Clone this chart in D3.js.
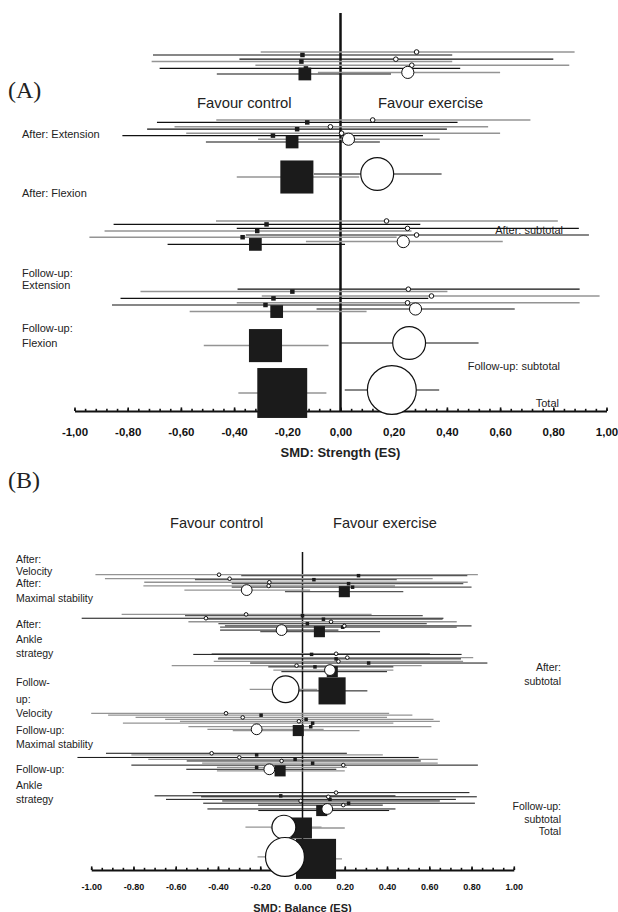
<!DOCTYPE html>
<html>
<head>
<meta charset="utf-8">
<script src="https://cdn.jsdelivr.net/npm/d3@7"></script>
<style>
  body { margin: 0; background: #fff; }
  text { fill: #222; }
  .narrow { font-family: 'Liberation Sans Narrow', 'Arial Narrow', 'Liberation Sans', sans-serif; }
  .tick text { font-family: 'Liberation Sans', Arial, sans-serif; font-weight: bold; fill: #111; }
</style>
</head>
<body>
<svg width="618" height="912"></svg>
<script>
// ---- panel A: strength (row position, estimate, CI, marker, weight, series) ----
var aPos = [10, 10.75, 11.8, 12.4, 13.3, 14.1, 15.1, 15.5,
            27, 27.6, 28.7, 29.3, 30.3, 30.9, 31.8, 32.5,
            40.5, 41.25,
            52.25, 53.1, 54.1, 54.75, 55.75, 56.3, 57.4, 58.1,
            69.3, 69.9, 71, 71.6, 72.7, 73.25, 74.25, 74.9,
            82.75, 83.4,
            94.5, 95.25];
var aEst = [0.286, -0.143, 0.208, -0.147, 0.268, -0.13, 0.253, -0.134,
            0.121, -0.125, -0.038, -0.163, 0.004, -0.254, 0.03, -0.182,
            0.138, -0.164,
            0.173, -0.278, 0.252, -0.313, 0.286, -0.368, 0.236, -0.32,
            0.255, -0.181, 0.342, -0.252, 0.252, -0.282, 0.282, -0.24,
            0.258, -0.282,
            0.193, -0.219];
var aLo = [-0.30, -0.705, -0.38, -0.71, -0.32, -0.68, -0.085, -0.465,
           -0.467, -0.69, -0.624, -0.727, -0.58, -0.82, -0.31, -0.506,
           -0.10, -0.39,
           -0.468, -0.853, -0.39, -0.887, -0.356, -0.944, -0.13, -0.65,
           -0.387, -0.752, -0.296, -0.827, -0.39, -0.859, -0.09, -0.567,
           0.0, -0.514,
           0.016, -0.384];
var aHi = [0.88, 0.42, 0.80, 0.42, 0.86, 0.45, 0.60, 0.19,
           0.714, 0.44, 0.555, 0.40, 0.60, 0.31, 0.373, 0.148,
           0.38, 0.07,
           0.817, 0.30, 0.896, 0.267, 0.934, 0.211, 0.61, 0.017,
           0.899, 0.402, 0.974, 0.33, 0.899, 0.298, 0.655, 0.098,
           0.519, -0.045,
           0.371, -0.053];
var aShape = ["c","s","c","s","c","s","c","s",
              "c","s","c","s","c","s","c","s",
              "c","s",
              "c","s","c","s","c","s","c","s",
              "c","s","c","s","c","s","c","s",
              "c","s",
              "c","s"];
var aWeight = [1,1,1,1,1,1,7,8,
               1,1,1,1,1,1,7,8,
               51,54,
               1,1,1,1,1,1,7,8,
               1,1,1,1,1,1,7,8,
               51,54,
               113,123];
var aSeries = ["g","k","k","g","g","k","g","k",
               "g","k","g","k","g","k","g","k",
               "k","g",
               "g","k","k","g","k","g","g","k",
               "k","g","g","k","g","k","k","g",
               "k","g",
               "k","g"];

// ---- panel B: balance ----
var bPos = [7.1, 7.4, 8.35, 8.65, 9.45, 9.9, 10.6, 11.0, 11.9, 12.4,
            19.5, 19.9, 20.7, 21.0, 21.8, 22.4, 23.1, 23.5, 24.4, 24.9,
            31.8, 32.0, 33.0, 33.4, 34.2, 34.7, 35.5, 35.9, 36.9, 37.4,
            42.9, 43.4,
            50.4, 51.0, 51.7, 52.3, 52.9, 53.5, 54.6, 55.4, 55.8,
            62.9, 63.4, 64.2, 64.8, 65.3, 66.0, 66.6, 67.3, 67.9, 68.4,
            75.2, 76.2, 76.5, 77.3, 77.8, 78.5, 79.1, 80.3, 80.8,
            86.0, 86.25,
            95.3, 95.9];
var bEst = [-0.395, 0.265, -0.345, 0.054, -0.157, 0.218, -0.16, 0.237, -0.264, 0.198,
            -0.267, 0.0, -0.457, 0.099, 0.135, 0.023, 0.198, 0.19, -0.099, 0.08,
            0.159, 0.043, 0.212, 0.159, 0.17, 0.313, -0.028, 0.059, 0.13, 0.141,
            -0.08, 0.14,
            -0.362, -0.196, -0.283, 0.017, -0.017, 0.048, 0.039, -0.217, -0.02,
            -0.43, -0.217, -0.299, -0.035, -0.099, 0.048, 0.193, -0.217, -0.157, -0.106,
            0.159, -0.103, 0.122, 0.13, -0.009, 0.218, 0.193, 0.117, 0.091,
            -0.088, -0.005,
            -0.083, 0.064];
var bLo = [-0.98, -0.29, -0.935, -0.509, -0.749, -0.335, -0.753, -0.335, -0.559, -0.083,
           -0.856, -0.556, -1.045, -0.461, -0.54, -0.398, -0.367, -0.39, -0.39, -0.2,
           -0.43, -0.517, -0.398, -0.40, -0.42, -0.248, -0.619, -0.162, -0.138, -0.10,
           -0.25, -0.02,
           -1.0, -0.92, -0.79, -0.65, -0.58, -0.85, -0.54, -0.45, -0.33,
           -0.93, -0.81, -1.065, -0.73, -0.548, -0.475, -0.81, -0.405, -0.55, -0.405,
           -0.52, -0.70, -0.48, -0.646, -0.38, -0.47, -0.21, -0.45, -0.209,
           -0.27, -0.15,
           -0.213, -0.05];
var bHi = [0.83, 0.78, 0.616, 0.446, 0.782, 0.761, 0.438, 0.80, 0.036, 0.477,
           0.327, 0.569, 0.667, 0.663, 0.73, 0.588, 0.80, 0.73, 0.17, 0.367,
           0.603, 0.753, 0.808, 0.75, 0.76, 0.875, 0.564, 0.43, 0.43, 0.40,
           0.07, 0.307,
           0.41, 0.52, 0.40, 0.62, 0.65, 0.43, 0.61, 0.10, 0.27,
           0.21, 0.38, 0.55, 0.64, 0.56, 0.64, 0.83, 0.21, 0.16, 0.20,
           0.79, 0.44, 0.825, 0.726, 0.65, 0.816, 0.38, 0.44, 0.41,
           0.09, 0.20,
           0.05, 0.187];
var bShape = ["c","s","c","s","c","s","c","s","c","s",
              "c","s","c","s","c","s","c","s","c","s",
              "c","s","c","s","c","s","c","s","c","s",
              "c","s",
              "c","s","c","s","c","s","s","c","s",
              "c","s","c","s","c","s","c","s","c","s",
              "c","s","c","s","c","s","c","c","s",
              "c","s",
              "c","s"];
var bWeight = [1,1,1,1,1,1,1,1,9,10,
               1,1,1,1,1,1,1,1,9,10,
               1,1,1,1,1,1,1,1,9,10,
               55,60,
               1,1,1,1,1,1,1,9,10,
               1,1,1,1,1,1,1,1,9,10,
               1,1,1,1,1,1,1,9,10,
               44,36,
               117,131];
var bSeries = ["g","d","g","d","g","d","g","d","g","d",
               "g","d","k","d","g","d","k","d","k","d",
               "g","k","g","k","g","k","g","k","g","k",
               "g","k",
               "g","g","g","g","g","g","g","g","g",
               "k","g","k","g","k","g","k","g","k","g",
               "k","k","k","k","k","k","k","k","k",
               "g","g",
               "g","g"];

var svg = d3.select("svg");
svg.append("rect").attr("width", 618).attr("height", 912).attr("fill", "#fff");

function rows(pos, est, lo, hi, shape, weight, series) {
  return pos.map((p, i) => ({pos: p, est: est[i], lo: lo[i], hi: hi[i],
                             shape: shape[i], w: weight[i], s: series[i]}));
}

function panel(cfg) {
  var x = d3.scaleLinear().domain([-1, 1]).range(cfg.xRange);
  var y = d3.scaleLinear().domain([0, 100]).range(cfg.yRange);
  var side = d3.scaleSqrt().domain([0, 1]).range([0, cfg.sq]);
  var rad = d3.scaleSqrt().domain([0, 1]).range([0, cfg.cr]);
  var col = {g: "#949494", d: "#555", k: "#111"};
  var g = svg.append("g");

  // labels first, lines are drawn over them
  cfg.labels.forEach(l => {
    g.append("text").attr("class", "narrow")
      .attr("x", l[1]).attr("y", l[2])
      .attr("text-anchor", l[3] || "start")
      .attr("font-size", l[4] || cfg.labelSize)
      .text(l[0]);
  });

  // axis
  var loc = d3.formatLocale({decimal: cfg.decimal, thousands: " ", grouping: [3], currency: ["", ""], minus: "-"});
  var fmt = loc.format(".2f");
  var minor = d3.range(-1, 1 + 1e-9, cfg.minorStep);
  var major = d3.range(-1, 1 + 1e-9, 0.2);

  g.append("g")
    .attr("transform", "translate(0," + cfg.axisY + ")")
    .call(d3.axisBottom(x).tickValues(minor).tickSize(-2.2).tickFormat("").tickSizeOuter(0))
    .call(a => a.select(".domain").attr("stroke-width", 2).attr("stroke", "#111"))
    .call(a => a.selectAll(".tick line").attr("stroke-width", 1.6).attr("stroke", "#111"));

  g.append("g")
    .attr("transform", "translate(0," + cfg.axisY + ")")
    .call(d3.axisBottom(x).tickValues(major).tickSize(-3.6).tickPadding(cfg.tickPad).tickFormat(fmt).tickSizeOuter(0))
    .call(a => a.select(".domain").remove())
    .call(a => a.selectAll(".tick line").attr("stroke-width", 1.6).attr("stroke", "#111"))
    .call(a => a.selectAll(".tick text").attr("font-size", cfg.tickSize));

  g.append("text")
    .attr("x", x(0)).attr("y", cfg.titleY)
    .attr("text-anchor", "middle")
    .attr("font-family", "'Liberation Sans', Arial, sans-serif")
    .attr("font-weight", "bold")
    .attr("font-size", cfg.titleSize)
    .attr("fill", "#111")
    .text(cfg.title);

  // zero line
  g.append("line")
    .attr("x1", x(0)).attr("x2", x(0))
    .attr("y1", cfg.zeroTop).attr("y2", cfg.axisY)
    .attr("stroke", "#111").attr("stroke-width", cfg.zeroW);

  var data = cfg.data;

  g.selectAll(".ci").data(data).enter().append("line")
    .attr("class", "ci")
    .attr("x1", d => x(d.lo)).attr("x2", d => x(d.hi))
    .attr("y1", d => y(d.pos)).attr("y2", d => y(d.pos))
    .attr("stroke", d => col[d.s])
    .attr("stroke-width", d => d.s === "k" ? cfg.lineW : cfg.lineW + 0.3);

  g.selectAll(".sq").data(data.filter(d => d.shape === "s")).enter().append("rect")
    .attr("class", "sq")
    .attr("x", d => x(d.est) - side(d.w) / 2)
    .attr("y", d => y(d.pos) - side(d.w) / 2)
    .attr("width", d => side(d.w))
    .attr("height", d => side(d.w))
    .attr("fill", "#1b1b1b");

  g.selectAll(".ci-dot").data(data.filter(d => d.shape === "c")).enter().append("circle")
    .attr("class", "ci-dot")
    .attr("cx", d => x(d.est))
    .attr("cy", d => y(d.pos))
    .attr("r", d => rad(d.w))
    .attr("fill", "#fff")
    .attr("stroke", "#111")
    .attr("stroke-width", d => d.w > 20 ? 1.2 : 1);
}

// panel letters
svg.append("text").attr("x", 8).attr("y", 98)
  .attr("font-family", "'Liberation Serif', 'Times New Roman', serif")
  .attr("font-size", 24).attr("fill", "#111").text("(A)");
svg.append("text").attr("x", 8).attr("y", 488)
  .attr("font-family", "'Liberation Serif', 'Times New Roman', serif")
  .attr("font-size", 24).attr("fill", "#111").text("(B)");

panel({
  data: rows(aPos, aEst, aLo, aHi, aShape, aWeight, aSeries),
  xRange: [74.5, 606.5], yRange: [12, 412],
  axisY: 411, zeroTop: 13, zeroW: 2.5,
  sq: 4.5, cr: 2.3, lineW: 1.2,
  minorStep: 0.04, decimal: ",", tickPad: 17, tickSize: 11.5,
  title: "SMD: Strength (ES)", titleY: 457, titleSize: 13,
  labelSize: 11,
  labels: [
    ["Favour control", 197, 108, "start", 14.8],
    ["Favour exercise", 378, 108, "start", 14.8],
    ["After: Extension", 22, 138],
    ["After: Flexion", 22, 197],
    ["Follow-up:", 22, 277],
    ["Extension", 22, 289],
    ["Follow-up:", 22, 332],
    ["Flexion", 22, 347],
    ["After: subtotal", 563, 234, "end"],
    ["Follow-up: subtotal", 560, 370, "end"],
    ["Total", 559, 407, "end"]
  ]
});

panel({
  data: rows(bPos, bEst, bLo, bHi, bShape, bWeight, bSeries),
  xRange: [91.2, 513.8], yRange: [552, 872],
  axisY: 870, zeroTop: 552, zeroW: 1.5,
  sq: 3.5, cr: 1.8, lineW: 1.0,
  minorStep: 0.05, decimal: ".", tickPad: 13.5, tickSize: 9,
  title: "SMD: Balance (ES)", titleY: 911.5, titleSize: 11,
  labelSize: 10.5,
  labels: [
    ["Favour control", 170, 528, "start", 14.6],
    ["Favour exercise", 333, 528, "start", 14.6],
    ["After:", 16, 563],
    ["Velocity", 16, 575],
    ["After:", 16, 587],
    ["Maximal stability", 16, 602],
    ["After:", 16, 628],
    ["Ankle", 16, 643],
    ["strategy", 16, 657],
    ["Follow-", 16, 686],
    ["up:", 16, 703],
    ["Velocity", 16, 717],
    ["Follow-up:", 16, 734],
    ["Maximal stability", 16, 748],
    ["Follow-up:", 16, 773],
    ["Ankle", 16, 789],
    ["strategy", 16, 803],
    ["After:", 561, 671, "end"],
    ["subtotal", 561, 685, "end"],
    ["Follow-up:", 561, 810, "end"],
    ["subtotal", 561, 823, "end"],
    ["Total", 561, 835, "end"]
  ]
});
</script>
</body>
</html>
